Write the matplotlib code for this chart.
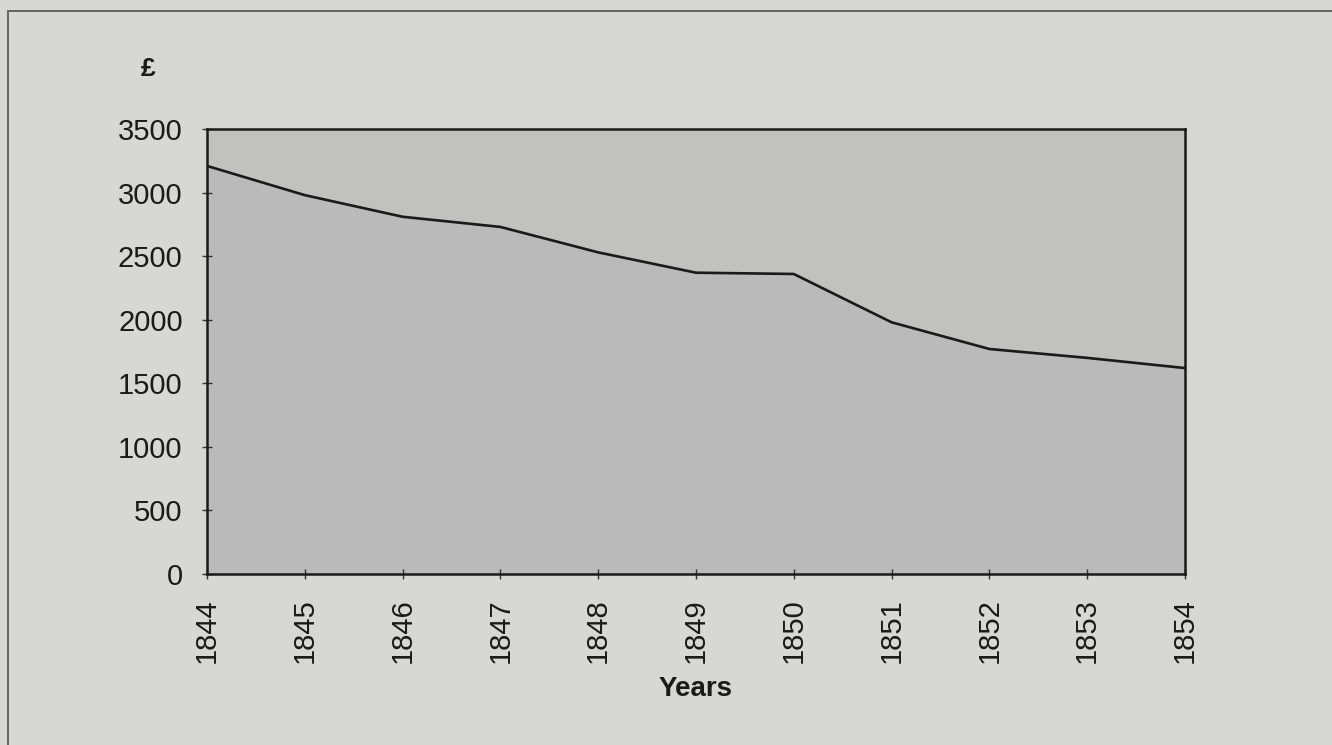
import matplotlib.pyplot as plt
from matplotlib.patches import Rectangle

# Data
years = [1844, 1845, 1846, 1847, 1848, 1849, 1850, 1851, 1852, 1853, 1854]
values = [3210, 2980, 2810, 2730, 2530, 2370, 2360, 1980, 1770, 1700, 1620]
y_ticks = [0, 500, 1000, 1500, 2000, 2500, 3000, 3500]

plt.rcParams['font.family'] = ['Liberation Sans', 'DejaVu Sans']

fig = plt.figure(figsize=(13.32, 7.45), dpi=100)
fig.patch.set_facecolor('#d7d8d5')

# page frame
fig.patches.append(Rectangle((0.006, -0.05), 1.1, 1.035, transform=fig.transFigure,
                             fill=False, edgecolor='#5a5a5a', linewidth=1.3))

ax = fig.add_axes([0.1554, 0.2295, 0.7342, 0.5973])
ax.set_facecolor('#c1c1bf')
ax.fill_between(years, values, 0, color='#bababa', linewidth=0)
ax.plot(years, values, color='#1a1a1a', linewidth=1.9)

ax.set_xlim(1844, 1854)
ax.set_ylim(0, 3500)
ax.set_xticks(years)
ax.set_xticklabels([str(y) for y in years], rotation=90)
ax.set_yticks(y_ticks)

for side in ax.spines.values():
    side.set_linewidth(1.8)
    side.set_color('#1a1a1a')

ax.tick_params(axis='both', direction='inout', length=7, width=1,
               colors='#333333', labelcolor='#1a1a1a', labelsize=21)
ax.tick_params(axis='y', pad=14)
ax.tick_params(axis='x', pad=14)

fig.text(0.522, 0.075, 'Years', ha='center', va='center', fontsize=20,
         fontweight='bold', color='#1a1a1a')
fig.text(0.111, 0.908, '£', ha='center', va='center', fontsize=19,
         fontweight='bold', color='#1a1a1a')

fig.savefig('out.png', dpi=100, facecolor=fig.get_facecolor())
